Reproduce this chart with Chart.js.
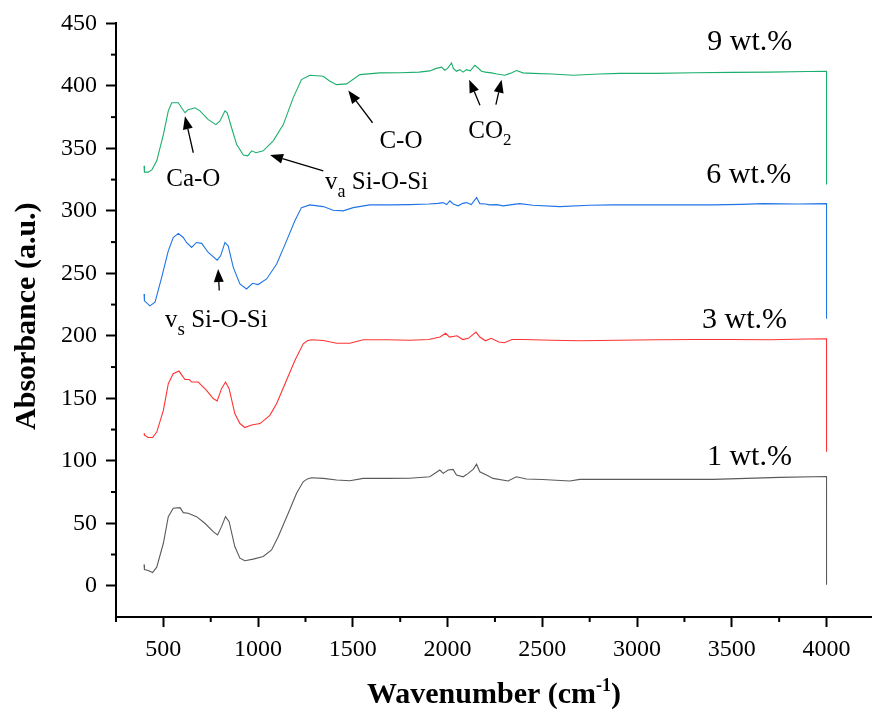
<!DOCTYPE html>
<html>
<head>
<meta charset="utf-8">
<script src="https://cdn.jsdelivr.net/npm/chart.js@4.4.0/dist/chart.umd.min.js"></script>
<style>
body { margin: 0; background: #fff; }
</style>
</head>
<body>
<canvas id="myChart" width="872" height="713"></canvas>
<script>
// 1 wt.%
var wn1 = [398, 400, 420, 443, 465, 500, 526, 552, 588, 605, 631, 675, 719, 763, 786, 807, 828, 847, 877, 904, 930, 974, 1027, 1071, 1106, 1159, 1203, 1238, 1260, 1282, 1344, 1414, 1484, 1555, 1678, 1800, 1906, 1959, 1977, 2003, 2029, 2047, 2082, 2109, 2135, 2153, 2170, 2205, 2240, 2319, 2363, 2416, 2500, 2645, 2698, 3000, 3401, 3752, 4000, 4000];
var ab1 = [17, 13, 12.2, 10.6, 14.9, 34, 55.3, 62, 62.5, 58.5, 58, 55.3, 50, 43.3, 40.7, 47.3, 55.3, 51.3, 31.4, 22.1, 20, 21.3, 23.4, 28.7, 39.3, 58, 74, 83.2, 85.5, 86.4, 85.9, 84.6, 84, 85.9, 85.9, 86, 87.2, 92.6, 89.9, 92.6, 93.1, 88.6, 87.2, 89.9, 93.1, 97.3, 91.2, 88.6, 85.9, 83.8, 87.2, 85.4, 85, 83.8, 85.1, 85.1, 85.1, 86.7, 87.4, 0.8];

// 3 wt.%
var wn3 = [398, 400, 420, 443, 465, 500, 526, 552, 582, 605, 614, 637, 649, 684, 728, 763, 784, 807, 828, 847, 877, 904, 930, 966, 1010, 1062, 1098, 1150, 1194, 1238, 1260, 1282, 1344, 1414, 1484, 1555, 1678, 1800, 1900, 1960, 1990, 2010, 2050, 2080, 2110, 2150, 2170, 2200, 2230, 2270, 2300, 2340, 2400, 2550, 2700, 2900, 3100, 3300, 3500, 3700, 3900, 4000, 4000];
var ab3 = [122, 120.5, 118.6, 118.6, 123, 140.4, 161.7, 169.7, 171.8, 167, 165, 165, 163, 163, 156.4, 149.8, 147.9, 157.7, 163, 157.7, 137.8, 129.8, 126.6, 128.7, 129.8, 136.4, 145.8, 164.4, 180.3, 193.6, 196, 196.8, 196.3, 194.1, 194.1, 196.8, 196.8, 196.5, 197, 199, 202, 199, 200, 197, 198, 203, 199, 196, 198, 195, 194.5, 197, 197, 196.5, 196, 196.5, 196.8, 197, 197, 196.8, 197.4, 197.6, 107.2];

// 6 wt.%
var wn6 = [398, 400, 429, 456, 491, 526, 552, 579, 605, 622, 649, 675, 702, 737, 784, 802, 825, 842, 869, 904, 939, 971, 1000, 1045, 1098, 1150, 1194, 1229, 1273, 1344, 1396, 1449, 1502, 1590, 1695, 1800, 1900, 1950, 1976, 1995, 2012, 2030, 2056, 2080, 2100, 2125, 2153, 2170, 2200, 2223, 2260, 2293, 2340, 2381, 2450, 2592, 2750, 2872, 3100, 3401, 3550, 3664, 3850, 4000, 4000];
var ab6 = [233.5, 228, 224, 227, 246.8, 268, 278.7, 282, 278.7, 274.7, 270.7, 274.7, 274, 266.7, 260.6, 264, 274.7, 272, 254.8, 241.5, 237.5, 242, 241, 245.5, 257.5, 276, 292, 302.6, 304.8, 303.4, 300.5, 300, 302.6, 304.8, 304.8, 305, 305.5, 306, 306.6, 305, 308, 305.5, 304, 306, 306.6, 305, 310.6, 305.8, 305.5, 304.8, 305, 304, 305, 305.8, 304.5, 303.4, 304.5, 304.8, 304.8, 304.8, 305.2, 305.8, 305.5, 305.8, 213.6];

// 9 wt.%
var wn9 = [398, 400, 420, 440, 465, 500, 526, 544, 579, 596, 614, 631, 667, 693, 737, 777, 799, 825, 837, 860, 887, 922, 945, 966, 989, 1027, 1080, 1133, 1185, 1229, 1273, 1344, 1379, 1414, 1467, 1537, 1643, 1750, 1850, 1906, 1940, 1968, 1985, 2000, 2021, 2030, 2047, 2065, 2082, 2100, 2120, 2144, 2161, 2179, 2200, 2232, 2260, 2302, 2330, 2364, 2398, 2450, 2550, 2662, 2800, 2908, 3100, 3300, 3500, 3700, 3900, 4000, 4000];
var ab9 = [336, 331, 331, 333, 340, 361, 380, 386.5, 386.5, 382.5, 378.5, 381, 382.5, 380, 373, 369, 372, 380, 378.5, 366.5, 353, 344.7, 344, 348, 346.5, 348, 356, 369, 390.4, 405, 408.5, 407.7, 403.7, 401, 401.6, 409, 410.4, 410.5, 411, 412, 414, 415, 412.5, 414, 418.4, 414, 411.7, 413, 411, 413, 412, 416.5, 414.3, 411.7, 411, 410.4, 409.5, 408.5, 410, 412.3, 410.4, 410, 409.5, 408.5, 409.5, 410, 410, 410.5, 410.8, 411, 411.5, 411.7, 321];

var xTicks = [500, 1000, 1500, 2000, 2500, 3000, 3500, 4000];
var yTicks = [0, 50, 100, 150, 200, 250, 300, 350, 400, 450];
var xMinor = [250, 750, 1250, 1750, 2250, 2750, 3250, 3750];
var yMinor = [25, 75, 125, 175, 225, 275, 325, 375, 425];

var serif = '"Liberation Serif", "Times New Roman", serif';

function pts(xs, ys) {
    return xs.map(function (x, i) { return { x: x, y: ys[i] }; });
}

// text pieces: [text, size, baseline shift]
var notes = [
    { x: 3595, y: 428.5, align: 'center', parts: [['9 wt.%', 30, 0]] },
    { x: 3590, y: 322.3, align: 'center', parts: [['6 wt.%', 30, 0]] },
    { x: 3567, y: 205.9, align: 'center', parts: [['3 wt.%', 30, 0]] },
    { x: 3593, y: 96.5, align: 'center', parts: [['1 wt.%', 30, 0]] },
    { x: 658, y: 320, align: 'center', parts: [['Ca-O', 25, 0]] },
    { x: 1754, y: 350.5, align: 'center', parts: [['C-O', 25, 0]] },
    { x: 2109, y: 358, align: 'left', parts: [['CO', 25, 0], ['2', 17, 7]] },
    { x: 1353, y: 317.6, align: 'left', parts: [['v', 25, 0], ['a', 18, 8], [' Si-O-Si', 25, 0]] },
    { x: 509, y: 206.9, align: 'left', parts: [['v', 25, 0], ['s', 19, 8], [' Si-O-Si', 25, 0]] }
];

// arrows: tail -> tip (data units)
var arrows = [
    [658, 346.5, 614, 375.8],
    [1344, 332, 1063, 344.7],
    [1604, 370.5, 1476, 396.3],
    [2171, 384.6, 2114, 405],
    [2255, 385, 2285, 405],
    [795, 236.2, 789, 253.5]
];

function richText(c, parts, x, y, align, weight) {
    var w = 0;
    parts.forEach(function (p) {
        c.font = weight + ' ' + p[1] + 'px ' + serif;
        w += c.measureText(p[0]).width;
    });
    var cx = align === 'center' ? x - w / 2 : x;
    c.textAlign = 'left';
    c.textBaseline = 'alphabetic';
    parts.forEach(function (p) {
        c.font = weight + ' ' + p[1] + 'px ' + serif;
        c.fillText(p[0], cx, y + p[2]);
        cx += c.measureText(p[0]).width;
    });
}

var decor = {
    id: 'decor',
    afterDraw: function (chart) {
        var c = chart.ctx, xs = chart.scales.x, ys = chart.scales.y;
        c.save();
        c.strokeStyle = '#000';
        c.fillStyle = '#000';
        c.lineWidth = 2;
        // minor ticks
        xMinor.forEach(function (v) {
            var px = xs.getPixelForValue(v);
            c.beginPath(); c.moveTo(px, xs.top); c.lineTo(px, xs.top + 5); c.stroke();
        });
        yMinor.forEach(function (v) {
            var py = ys.getPixelForValue(v);
            c.beginPath(); c.moveTo(ys.right, py); c.lineTo(ys.right - 5, py); c.stroke();
        });

        // notes
        notes.forEach(function (n) {
            richText(c, n.parts, xs.getPixelForValue(n.x), ys.getPixelForValue(n.y), n.align, 'normal');
        });

        // arrows
        c.lineWidth = 1.3;
        arrows.forEach(function (a) {
            var x1 = xs.getPixelForValue(a[0]), y1 = ys.getPixelForValue(a[1]);
            var x2 = xs.getPixelForValue(a[2]), y2 = ys.getPixelForValue(a[3]);
            var ang = Math.atan2(y2 - y1, x2 - x1);
            var hl = 13, hw = 5;
            var bx = x2 - hl * Math.cos(ang), by = y2 - hl * Math.sin(ang);
            c.beginPath(); c.moveTo(x1, y1); c.lineTo(bx, by); c.stroke();
            c.beginPath();
            c.moveTo(x2, y2);
            c.lineTo(bx + hw * Math.sin(ang), by - hw * Math.cos(ang));
            c.lineTo(bx - hw * Math.sin(ang), by + hw * Math.cos(ang));
            c.closePath();
            c.fill();
        });

        // axis titles
        var midX = (xs.left + xs.right) / 2;
        richText(c, [['Wavenumber (cm', 30, 0], ['-1', 18, -12], [')', 30, 0]], midX, 703, 'center', 'bold');
        c.translate(35, (ys.top + ys.bottom) / 2 - 4);
        c.rotate(-Math.PI / 2);
        richText(c, [['Absorbance (a.u.)', 30, 0]], 0, 0, 'center', 'bold');
        c.restore();
    }
};

var ctx = document.getElementById('myChart');
var myChart = new Chart(ctx, {
    type: 'line',
    data: {
        datasets: [
            { label: '1 wt.%', data: pts(wn1, ab1), borderColor: '#5a5a5a' },
            { label: '3 wt.%', data: pts(wn3, ab3), borderColor: '#ff3333' },
            { label: '6 wt.%', data: pts(wn6, ab6), borderColor: '#1f74e6' },
            { label: '9 wt.%', data: pts(wn9, ab9), borderColor: '#1cae6c' }
        ]
    },
    options: {
        responsive: false,
        animation: false,
        layout: { padding: { top: 22, right: 0, left: 0, bottom: 0 } },
        elements: {
            point: { radius: 0 },
            line: { borderWidth: 1.1, tension: 0, fill: false }
        },
        plugins: {
            legend: { display: false },
            tooltip: { enabled: false }
        },
        scales: {
            x: {
                type: 'linear',
                min: 250,
                max: 4240,
                afterBuildTicks: function (s) { s.ticks = xTicks.map(function (v) { return { value: v }; }); },
                afterFit: function (s) { s.height = 96; },
                grid: { drawOnChartArea: false, drawTicks: true, tickLength: 10, tickWidth: 2, tickColor: '#000' },
                border: { display: true, color: '#000', width: 2 },
                ticks: {
                    color: '#000', font: { family: serif, size: 24 }, padding: 8, maxRotation: 0,
                    callback: function (v) { return String(v); }
                }
            },
            y: {
                type: 'linear',
                min: -25,
                max: 450,
                afterBuildTicks: function (s) { s.ticks = yTicks.map(function (v) { return { value: v }; }); },
                afterFit: function (s) { s.width = 116; },
                grid: { drawOnChartArea: false, drawTicks: true, tickLength: 10, tickWidth: 2, tickColor: '#000' },
                border: { display: true, color: '#000', width: 2 },
                ticks: {
                    color: '#000', font: { family: serif, size: 24 }, padding: 9,
                    callback: function (v) { return String(v); }
                }
            }
        }
    },
    plugins: [decor]
});
</script>
</body>
</html>
